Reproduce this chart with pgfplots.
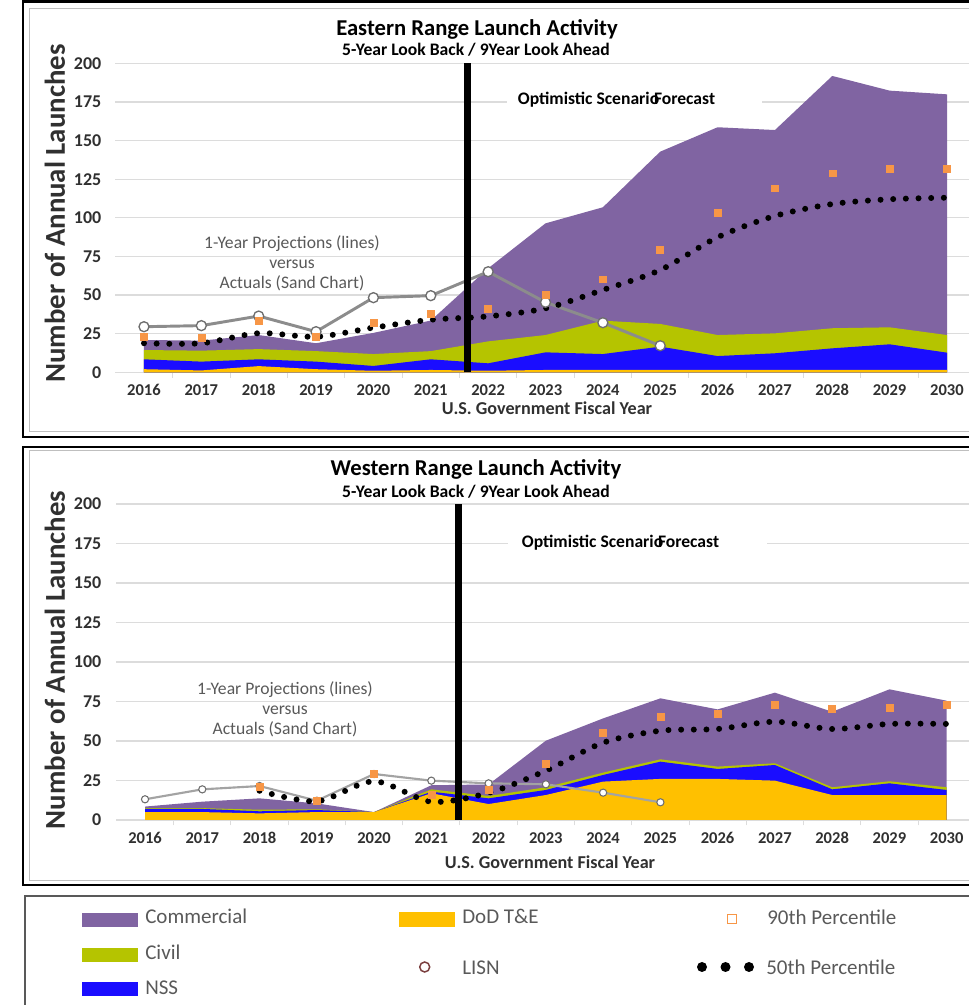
\documentclass[border=0pt]{standalone}
\usepackage{pgfplots}
\usepackage{pgfplotstable}
\pgfplotsset{compat=1.18}
\usepackage{fontspec}
\setmainfont{Carlito}
\definecolor{comm}{HTML}{8064A2}
\definecolor{civ}{HTML}{B5C400}
\definecolor{nss}{HTML}{1A0DFF}
\definecolor{dod}{HTML}{FFC000}
\definecolor{pninety}{HTML}{F79646}
\definecolor{lisnline}{HTML}{8C8C8C}
\definecolor{lisnedge}{HTML}{6E6E6E}
\definecolor{lisnleg}{HTML}{7B3F3F}
\definecolor{txtgray}{HTML}{595959}
\definecolor{gridc}{HTML}{DCDCDC}
\definecolor{lbl}{HTML}{303030}
\newcommand{\fs}[2]{\fontsize{#1}{#2}\selectfont}

% cumulative tops of the stacked areas: dod, nss, civ, com
\pgfplotstableread{
year dod nss civ com lisn pn pf
2016 2.0 8.4 14.4 20.9 29.5 23.0 18.8
2017 1.2 6.9 14.0 20.5 30.2 22.6 18.8
2018 4.0 8.4 15.0 24.1 36.4 33.4 25.3
2019 2.0 6.9 13.7 18.8 26.3 23.0 23.0
2020 1.0 4.1 11.8 25.5 48.3 32.1 28.9
2021 1.5 8.4 13.7 33.5 49.6 37.7 34.0
2022 1.0 5.8 20.0 67.3 65.1 41.4 36.2
2023 1.5 12.9 24.1 96.4 45.3 50.0 41.4
2024 1.5 11.8 33.4 106.8 32.1 60.2 53.3
2025 1.5 16.6 31.3 142.8 17.2 79.6 66.2
2026 1.5 10.5 24.1 158.6 nan 103.3 87.4
2027 1.5 12.3 25.2 156.8 nan 119.1 101.2
2028 1.5 15.5 28.5 191.8 nan 128.8 108.9
2029 1.5 18.1 29.1 182.3 nan 132.0 112.0
2030 1.5 12.7 24.1 179.9 nan 132.0 113.0
}\eastdata

\pgfplotstableread{
year dod nss civ com lisn pn pf
2016 5.0 7.0 7.5 8.5 13.1 nan nan
2017 5.0 7.0 7.5 11.6 19.4 nan nan
2018 4.2 5.5 6.5 13.7 21.5 21.0 18.5
2019 5.0 6.3 6.8 10.5 12.2 12.2 11.8
2020 5.0 5.0 5.0 5.0 29.1 29.0 24.5
2021 16.9 17.9 19.4 22.0 24.9 15.8 11.6
2022 10.1 13.7 15.2 22.5 23.2 19.2 17.2
2023 15.8 19.0 20.7 50.2 22.6 35.4 31.2
2024 24.3 28.5 30.0 64.3 17.3 55.3 48.9
2025 26.0 36.9 38.4 77.0 11.2 65.4 56.5
2026 26.0 32.3 33.8 70.0 nan 67.5 57.6
2027 24.9 34.8 35.9 80.6 nan 73.0 62.2
2028 15.8 19.4 20.7 68.5 nan 70.3 57.6
2029 15.8 23.2 24.5 82.7 nan 71.3 60.8
2030 15.8 19.0 20.7 75.5 nan 73.0 60.8
}\westdata

\pgfplotsset{rangeaxis/.style={
  scale only axis,
  anchor=south west,
  xmin=2015.5, xmax=2030.5, ymin=0, ymax=200,
  xtick={2016,...,2030},
  minor xtick={2016.5,2017.5,...,2029.5},
  ytick={0,25,...,200},
  /pgf/number format/assume math mode=true,
  /pgf/number format/1000 sep={},
  xticklabel style={font=\fs{12.4pt}{14pt}\bfseries, text=lbl, anchor=center, yshift=-13.3pt},
  yticklabel style={font=\fs{13.5pt}{15pt}\bfseries, text=lbl},
  ymajorgrids,
  major grid style={draw=gridc, line width=0.9pt},
  axis line style={draw=none},
  major tick length=0pt,
  minor tick length=4pt,
  minor tick style={draw=gridc, line width=0.75pt},
  tick align=outside,
  tick pos=left,
}}

\begin{document}
\begin{tikzpicture}
\useasboundingbox (0,0) rectangle (726pt,753.75pt);
\begin{scope}[x=0.75pt,y=0.75pt]
\draw[black, line width=1.6pt] (22.7,568.3) rectangle (990,1003.5);
\draw[gray!50, line width=0.75pt] (29,573.5) rectangle (990,996);
\draw[black, line width=1.6pt] (22.7,120) rectangle (990,558.3);
\draw[gray!50, line width=0.75pt] (29,124) rectangle (990,554);
\draw[gray!70!black, line width=1pt] (25,-20) rectangle (990,109);
\end{scope}

% ---------------- Eastern Range ----------------
\begin{axis}[rangeaxis, at={(86.475pt,474.525pt)}, width=645.3pt, height=231.75pt,
  yticklabel style={xshift=-7pt}]
\addplot[fill=comm, draw=none] table[x=year,y=com]{\eastdata} \closedcycle;
\addplot[fill=civ, draw=none] table[x=year,y=civ]{\eastdata} \closedcycle;
\addplot[fill=nss, draw=none] table[x=year,y=nss]{\eastdata} \closedcycle;
\addplot[fill=dod, draw=none] table[x=year,y=dod]{\eastdata} \closedcycle;
\addplot[lisnline, line width=2.2pt, mark=*, mark size=3.75pt,
  mark options={fill=white, draw=lisnedge, line width=1pt}] table[x=year,y=lisn]{\eastdata};
\addplot[black, smooth, line width=4.5pt, line cap=round, dash pattern=on 0pt off 9.5pt]
  table[x=year,y=pf]{\eastdata};
\addplot[only marks, mark=square*, mark size=2.6pt, pninety, mark options={draw=none}]
  table[x=year,y=pn]{\eastdata};
\addplot[black, line width=5.8pt] coordinates {(2021.64,0) (2021.64,200)};
\end{axis}

% ---------------- Western Range ----------------
\begin{axis}[rangeaxis, at={(87.3pt,138.75pt)}, width=644.2pt, height=237pt,
  yticklabel style={xshift=-7.75pt}]
\addplot[fill=comm, draw=none] table[x=year,y=com]{\westdata} \closedcycle;
\addplot[fill=civ, draw=none] table[x=year,y=civ]{\westdata} \closedcycle;
\addplot[fill=nss, draw=none] table[x=year,y=nss]{\westdata} \closedcycle;
\addplot[fill=dod, draw=none] table[x=year,y=dod]{\westdata} \closedcycle;
\addplot[lisnline!80, line width=1.6pt, mark=*, mark size=2.7pt,
  mark options={fill=white, draw=lisnedge, line width=0.8pt}] table[x=year,y=lisn]{\westdata};
\addplot[black, smooth, line width=4.5pt, line cap=round, dash pattern=on 0pt off 9.5pt]
  table[x=year,y=pf]{\westdata};
\addplot[only marks, mark=square*, mark size=2.6pt, pninety, mark options={draw=none}]
  table[x=year,y=pn]{\westdata};
\addplot[black, line width=5.3pt] coordinates {(2021.48,0) (2021.48,200)};
\end{axis}

\begin{scope}[x=0.75pt,y=0.75pt]
% top texts
\node[font=\fs{17pt}{20pt}\bfseries] at (477,976) {Eastern Range Launch Activity};
\node[font=\fs{13.2pt}{15pt}\bfseries] at (476,955) {5-Year Look Back / 9Year Look Ahead};
\fill[white] (507,898) rectangle (762,909);
\node[font=\fs{13.2pt}{15pt}\bfseries] at (616.5,905) {Optimistic Scenario\hspace{-0.3em}Forecast};
\node[font=\fs{13.2pt}{15pt}, text=txtgray, align=center] at (292,742) {1-Year Projections (lines)\\versus\\Actuals (Sand Chart)};
\node[font=\fs{21.6pt}{24pt}\bfseries, rotate=90, text=lbl] at (55,791.5) {Number of Annual Launches};
\node[font=\fs{13.6pt}{15pt}\bfseries, text=lbl] at (547,597) {U.S. Government Fiscal Year};
% bottom texts
\node[font=\fs{17pt}{20pt}\bfseries] at (476,536) {Western Range Launch Activity};
\node[font=\fs{13.2pt}{15pt}\bfseries] at (476,513) {5-Year Look Back / 9Year Look Ahead};
\fill[white] (508,456) rectangle (767,467);
\node[font=\fs{13.2pt}{15pt}\bfseries] at (620.5,462) {Optimistic Scenario\hspace{-0.3em}Forecast};
\node[font=\fs{13.2pt}{15pt}, text=txtgray, align=center] at (285,296) {1-Year Projections (lines)\\versus\\Actuals (Sand Chart)};
\node[font=\fs{21.6pt}{24pt}\bfseries, rotate=90, text=lbl] at (55,345) {Number of Annual Launches};
\node[font=\fs{13.6pt}{15pt}\bfseries, text=lbl] at (550,142.3) {U.S. Government Fiscal Year};
% legend
\fill[comm] (82,78.3) rectangle (138,92.3);
\node[font=\fs{15.75pt}{18pt}, text=txtgray, anchor=base west, inner sep=0] at (145,81) {Commercial};
\fill[civ] (82,43.3) rectangle (138,57);
\node[font=\fs{15.75pt}{18pt}, text=txtgray, anchor=base west, inner sep=0] at (145,45) {Civil};
\fill[nss] (82,9.3) rectangle (138,23);
\node[font=\fs{15.75pt}{18pt}, text=txtgray, anchor=base west, inner sep=0] at (145,11) {NSS};
\fill[dod] (399,78.3) rectangle (455,93);
\node[font=\fs{15.75pt}{18pt}, text=txtgray, anchor=base west, inner sep=0] at (462,81.7) {DoD T\&E};
\draw[draw=lisnleg, line width=1.1pt] (424.7,38) circle (5);
\node[font=\fs{15.75pt}{18pt}, text=txtgray, anchor=base west, inner sep=0] at (462,31) {LISN};
\draw[pninety, line width=1.1pt] (727.5,81.5) rectangle (736.5,90.5);
\node[font=\fs{15.75pt}{18pt}, text=txtgray, anchor=base west, inner sep=0] at (767,80) {90th Percentile};
\fill[black] (702,38) circle (5);
\fill[black] (725.5,38) circle (5);
\fill[black] (749,38) circle (5);
\node[font=\fs{15.75pt}{18pt}, text=txtgray, anchor=base west, inner sep=0] at (766,31) {50th Percentile};
\end{scope}
\end{tikzpicture}
\end{document}
